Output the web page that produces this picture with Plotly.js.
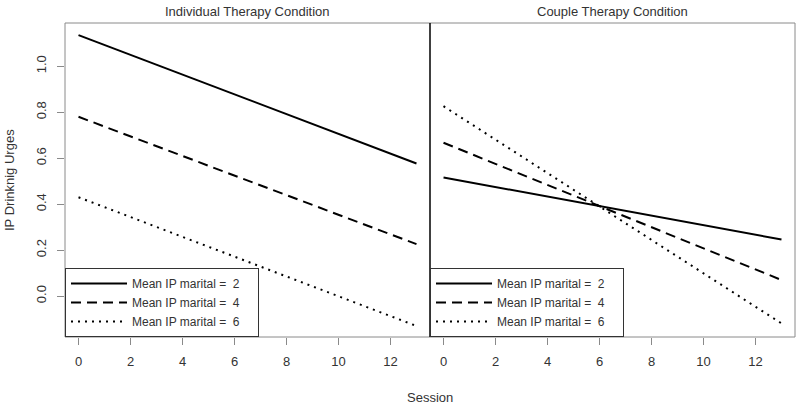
<!DOCTYPE html>
<html>
<head>
<meta charset="utf-8">
<script src="https://cdn.plot.ly/plotly-3.0.1.min.js"></script>
<style>html,body{margin:0;padding:0;background:#fff}#chart{width:800px;height:408px}</style>
</head>
<body>
<div id="chart"></div>
<script>
// Data
const sessions = [0, 13];
const legendLabels = ["Mean IP marital =\u00a0\u00a02", "Mean IP marital =\u00a0\u00a04", "Mean IP marital =\u00a0\u00a06"];
const individualM2 = [1.135, 0.577];
const individualM4 = [0.780, 0.226];
const individualM6 = [0.430, -0.130];
const coupleM2 = [0.516, 0.246];
const coupleM4 = [0.667, 0.070];
const coupleM6 = [0.826, -0.119];
const panelTitles = ["Individual Therapy Condition", "Couple Therapy Condition"];
const xTicks = [0, 2, 4, 6, 8, 10, 12];
const yTicks = [0.0, 0.2, 0.4, 0.6, 0.8, 1.0];

const FONT = "Liberation Sans, Arial, sans-serif";
const TXT = "#333";
const GRAY = "#8a8a8a";
const dashes = ["solid", "10px,6px", "2px,5px"];
const PAD = "\u00a0\u00a0\u00a0\u00a0";

function mk(x, y, i, xa, leg) {
  return {
    x: x, y: y, type: "scatter", mode: "lines",
    name: legendLabels[i] + PAD, xaxis: xa, yaxis: "y", legend: leg,
    line: {color: "#000", width: 2, dash: dashes[i]},
    hoverinfo: "skip"
  };
}

const traces = [
  mk(sessions, individualM2, 0, "x", "legend"),
  mk(sessions, individualM4, 1, "x", "legend"),
  mk(sessions, individualM6, 2, "x", "legend"),
  mk(sessions, coupleM2, 0, "x2", "legend2"),
  mk(sessions, coupleM4, 1, "x2", "legend2"),
  mk(sessions, coupleM6, 2, "x2", "legend2")
];

const xax = (dom) => ({
  domain: dom, range: [-0.52, 13.52], anchor: "y",
  tickmode: "array", tickvals: xTicks, ticktext: xTicks.map(String),
  ticks: "outside", ticklen: 7, tickcolor: GRAY, tickwidth: 1,
  ticklabelstandoff: 5,
  showgrid: false, zeroline: false, showline: false,
  tickfont: {family: FONT, size: 13, color: TXT}
});

const legendCommon = {
  y: 0, yanchor: "bottom", xref: "paper", yref: "paper", xanchor: "left",
  bgcolor: "#fff", bordercolor: "#333", borderwidth: 1,
  font: {family: FONT, size: 12, color: TXT},
  itemwidth: 56, tracegroupgap: 0, itemclick: false
};

const layout = {
  width: 800, height: 408,
  margin: {l: 65, r: 5, t: 23, b: 71},
  paper_bgcolor: "#fff", plot_bgcolor: "#fff",
  showlegend: true,
  xaxis: xax([0, 0.5]),
  xaxis2: xax([0.5, 1]),
  yaxis: {
    range: [-0.178, 1.188],
    tickmode: "array", tickvals: yTicks, ticktext: yTicks.map(v => v.toFixed(1)),
    ticks: "outside", ticklen: 7, tickcolor: GRAY, tickwidth: 1,
    tickangle: -90, ticklabelstandoff: 6,
    showgrid: false, zeroline: false, showline: false,
    tickfont: {family: FONT, size: 13, color: TXT}
  },
  legend: Object.assign({x: 0}, legendCommon),
  legend2: Object.assign({x: 0.5}, legendCommon),
  shapes: [
    {type: "rect", xref: "paper", yref: "paper", x0: 0, x1: 1, y0: 0, y1: 1,
     line: {color: GRAY, width: 1}, layer: "above"},
    {type: "line", xref: "paper", yref: "paper", x0: 0.5, x1: 0.5, y0: 0, y1: 1,
     line: {color: "#000", width: 1.5}, layer: "above"}
  ],
  annotations: [
    {text: panelTitles[0], xref: "paper", yref: "paper", x: 0.25, y: 1, yshift: 12,
     xanchor: "center", yanchor: "middle",
     showarrow: false, font: {family: FONT, size: 13, color: TXT}},
    {text: panelTitles[1], xref: "paper", yref: "paper", x: 0.75, y: 1, yshift: 12,
     xanchor: "center", yanchor: "middle",
     showarrow: false, font: {family: FONT, size: 13, color: TXT}},
    {text: "Session", xref: "paper", yref: "paper", x: 0.5, y: 0, yshift: -60,
     xanchor: "center", yanchor: "middle",
     showarrow: false, font: {family: FONT, size: 13, color: TXT}},
    {text: "IP Drinknig Urges", xref: "paper", yref: "paper", x: 0, xshift: -56, y: 0.5,
     xanchor: "center", yanchor: "middle",
     textangle: -90, showarrow: false, font: {family: FONT, size: 13, color: TXT}}
  ]
};

Plotly.newPlot("chart", traces, layout, {staticPlot: true, displayModeBar: false});
</script>
</body>
</html>
